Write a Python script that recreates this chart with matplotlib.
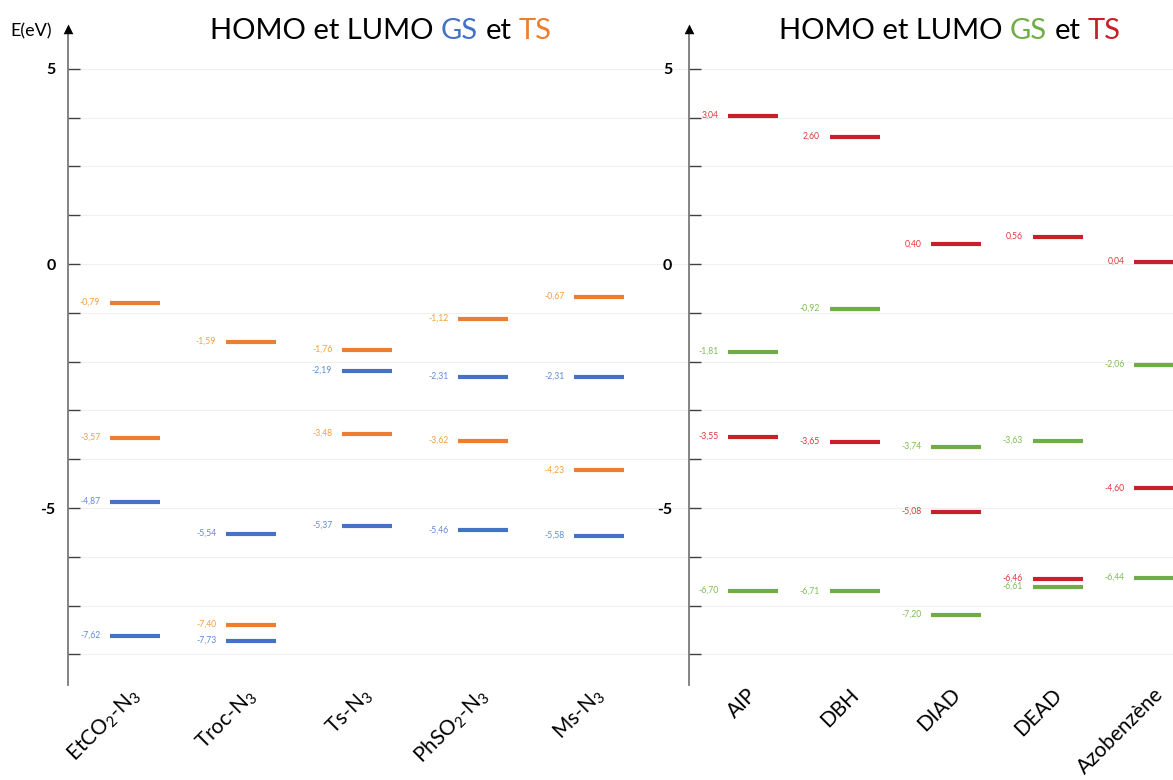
import matplotlib
matplotlib.use("Agg")
import matplotlib.pyplot as plt
from matplotlib.transforms import ScaledTranslation

plt.rcParams['font.family'] = ['Lato', 'DejaVu Sans']

# ---------------- data (eV) ----------------
azide_names = [r'EtCO$_\mathregular{2}$-N$_\mathregular{3}$', r'Troc-N$_\mathregular{3}$',
               r'Ts-N$_\mathregular{3}$', r'PhSO$_\mathregular{2}$-N$_\mathregular{3}$',
               r'Ms-N$_\mathregular{3}$']
azide_gs_lumo = [-4.87, -5.54, -2.19, -2.31, -2.31]
azide_gs_homo = [-7.62, -7.73, -5.37, -5.46, -5.58]
azide_ts_lumo = [-0.79, -1.59, -1.76, -1.12, -0.67]
azide_ts_homo = [-3.57, -7.40, -3.48, -3.62, -4.23]

azo_names = ['AIP', 'DBH', 'DIAD', 'DEAD', 'Azobenzène']
azo_gs_lumo = [-1.81, -0.92, -3.74, -3.63, -2.06]
azo_gs_homo = [-6.70, -6.71, -7.20, -6.61, -6.44]
azo_ts_lumo = [3.04, 2.60, 0.40, 0.56, 0.04]
azo_ts_homo = [-3.55, -3.65, -5.08, -6.46, -4.60]

tick_values = list(range(-8, 5))
tick_text = {4: '5', 0: '0', -5: '-5'}

# ---------------- layout ----------------
W, H = 1173, 780
fig = plt.figure(figsize=(W / 100, H / 100), dpi=100)

PX_PER_EV = 48.8
Y0_PX = 264          # pixel row of E = 0
TOP_PX, BOT_PX = 24, 685
E_TOP = (Y0_PX - TOP_PX) / PX_PER_EV
E_BOT = (Y0_PX - BOT_PX) / PX_PER_EV

BLUE, ORANGE = '#4472C4', '#ED7D31'
GREEN, RED = '#70AD47', '#C8202A'
BLUE_T, ORANGE_T = '#5F8CD6', '#F3A03C'
GREEN_T, RED_T = '#7DBE55', '#E0353B'


def add_panel(x_axis_px, x_right_px, first_px, step_px, names, series, ylab_pad):
    ax = fig.add_axes([x_axis_px / W, 1 - BOT_PX / H,
                       (x_right_px - x_axis_px) / W, (BOT_PX - TOP_PX) / H])
    ax.set_ylim(E_BOT, E_TOP)
    ax.set_xlim((x_axis_px - first_px) / step_px, (x_right_px - first_px) / step_px)
    for sp in ax.spines.values():
        sp.set_visible(False)
    ax.set_facecolor('none')

    ax.set_yticks(tick_values)
    ax.set_yticklabels([tick_text.get(v, '') for v in tick_values],
                       fontsize=11.5, fontweight='bold')
    ax.tick_params(axis='y', direction='in', length=8.5, width=1.0,
                   color='#404040', pad=ylab_pad)
    ax.grid(axis='y', color='#F0F0F0', lw=0.8, zorder=0)

    xs = list(range(len(names)))
    ax.set_xticks(xs)
    ax.set_xticklabels(names, rotation=45, ha='right', va='top',
                       rotation_mode='anchor', fontsize=15)
    ax.tick_params(axis='x', length=0, pad=-0.5)
    shift = ScaledTranslation(-6 / 100, 0, fig.dpi_scale_trans)
    for lab in ax.get_xticklabels():
        lab.set_transform(lab.get_transform() + shift)

    half = 25 / step_px
    for vals, col, tcol in series:
        ax.hlines(vals, [x - half for x in xs], [x + half for x in xs],
                  colors=col, lw=3.0, zorder=3)
        for x, v in zip(xs, vals):
            ax.annotate(f"{v:.2f}".replace('.', ','), (x - half, v),
                        xytext=(-7, 0.5), textcoords='offset points',
                        ha='right', va='center', fontsize=6.2, color=tcol,
                        zorder=4, annotation_clip=False)

    # vertical energy axis with arrow head
    ax.plot([0, 0], [0, 0.99], transform=ax.transAxes, color='#7A7A7A',
            lw=1.3, clip_on=False, zorder=5)
    ax.plot([0], [1], transform=ax.transAxes, clip_on=False, zorder=6,
            marker=[(0, 0), (-0.5, -1), (0.5, -1)], markersize=14,
            color='black', markeredgewidth=0, linestyle='none')
    return ax


ax_l = add_panel(68, 689, 135, 116, azide_names,
                 [(azide_gs_lumo, BLUE, BLUE_T), (azide_gs_homo, BLUE, BLUE_T),
                  (azide_ts_lumo, ORANGE, ORANGE_T), (azide_ts_homo, ORANGE, ORANGE_T)],
                 9.0)
ax_r = add_panel(689, 1240, 753, 101.5, azo_names,
                 [(azo_gs_lumo, GREEN, GREEN_T), (azo_gs_homo, GREEN, GREEN_T),
                  (azo_ts_lumo, RED, RED_T), (azo_ts_homo, RED, RED_T)],
                 12)

fig.text(10 / W, 1 - 31 / H, 'E(eV)', fontsize=13, ha='left', va='center')


def colored_title(pieces, x_center_px, y_px, size):
    renderer = fig.canvas.get_renderer()

    def width(s):
        t = fig.text(0, 0, s, fontsize=size)
        w = t.get_window_extent(renderer).width
        t.remove()
        return w

    full = ' '.join(p for p, _ in pieces)
    total = width(full)
    left = x_center_px - total / 2
    prefix = ''
    for i, (s, c) in enumerate(pieces):
        prefix = s if i == 0 else prefix + ' ' + s
        x = left + width(prefix) - width(s)
        fig.text(x / W, 1 - y_px / H, s, fontsize=size, color=c,
                 ha='left', va='center')


colored_title([('HOMO et LUMO', 'black'), ('GS', BLUE), ('et', 'black'), ('TS', ORANGE)],
              381, 31, 21)
colored_title([('HOMO et LUMO', 'black'), ('GS', GREEN), ('et', 'black'), ('TS', RED)],
              950, 31, 21)

fig.savefig('out.png', dpi=100)
